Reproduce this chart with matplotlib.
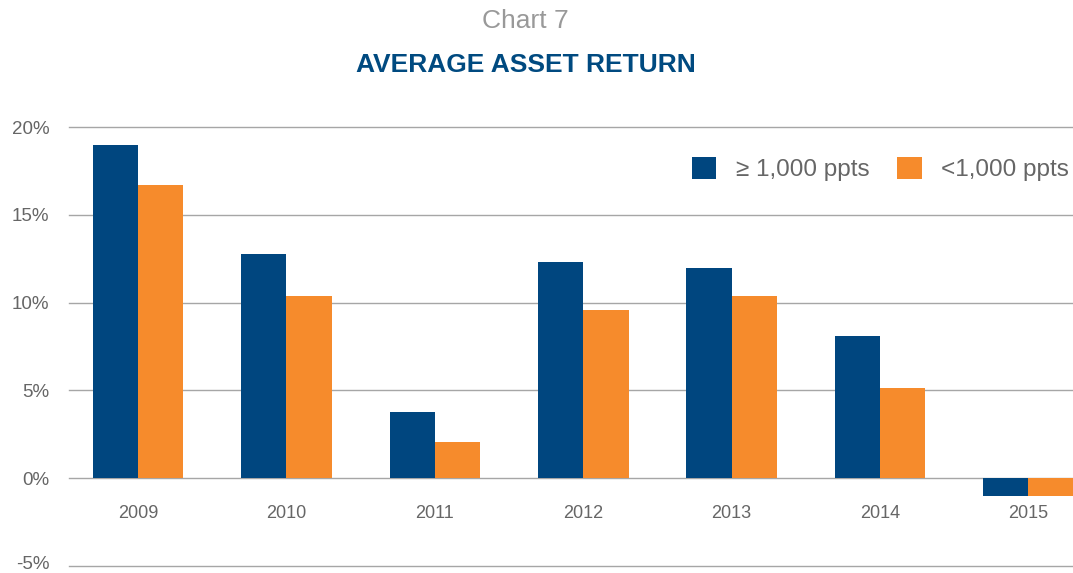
"""Chart 7 - average asset return by plan size."""

import matplotlib.pyplot as plt
import matplotlib.transforms as mtrans
import numpy as np

anos = ["2009", "2010", "2011", "2012", "2013", "2014", "2015"]
grandes = [19.0, 12.75, 3.75, 12.3, 12.0, 8.1, -1.0]
pequenos = [16.7, 10.35, 2.05, 9.6, 10.35, 5.15, -1.0]
rotulos = ["\u2265 1,000 ppts", "<1,000 ppts"]
yticks = [-5, 0, 5, 10, 15, 20]

AZUL = "#00467f"
LARANJA = "#f68b2c"
CINZA = "#666666"

plt.rcParams["font.family"] = ["Liberation Sans", "DejaVu Sans"]

fig = plt.figure(figsize=(10.73, 5.73), dpi=100)
ax = fig.add_axes([0.0643, 0.0122, 0.9357, 0.7661])

x = np.arange(len(anos))
w = 0.305
ax.bar(x - w / 2, grandes, w, color=AZUL, label=rotulos[0], zorder=3)
ax.bar(x + w / 2, pequenos, w, color=LARANJA, label=rotulos[1], zorder=3)

ax.set_xlim(-0.465, 6.3)
ax.set_ylim(-5, 20)
ax.set_yticks(yticks)
ax.set_yticklabels([f"{v}%" for v in yticks], fontsize=13.5, color=CINZA)
ax.tick_params(axis="y", length=0, pad=14)
ax.set_xticks([])
ax.grid(axis="y", color="#a6a6a6", linewidth=1, zorder=0)
for gl in ax.get_ygridlines():
    gl.set_clip_on(False)
for s in ax.spines.values():
    s.set_visible(False)

# o rótulo -5% fica colado na borda: sobe um pouco
baixo = ax.get_yticklabels()[0]
baixo.set_transform(baixo.get_transform()
                    + mtrans.ScaledTranslation(0, 4 / 100, fig.dpi_scale_trans))

for i, a in enumerate(anos):
    ax.text(i, -2.0, a, ha="center", va="center", fontsize=13, color=CINZA)

fig.text(0.49, 0.963, "Chart 7", ha="center", va="center", fontsize=19,
         color="#999999")
fig.text(0.49, 0.886, "AVERAGE ASSET RETURN", ha="center", va="center",
         fontsize=19, fontweight="bold", color="#004a80")

ax.legend(loc="upper right", bbox_to_anchor=(0.996, 0.932), ncol=2, frameon=False,
          fontsize=17.5, labelcolor=CINZA, handlelength=1.0, handleheight=1.0,
          columnspacing=1.15, handletextpad=0.8, borderpad=0, borderaxespad=0)

plt.savefig("out.png", dpi=100)
